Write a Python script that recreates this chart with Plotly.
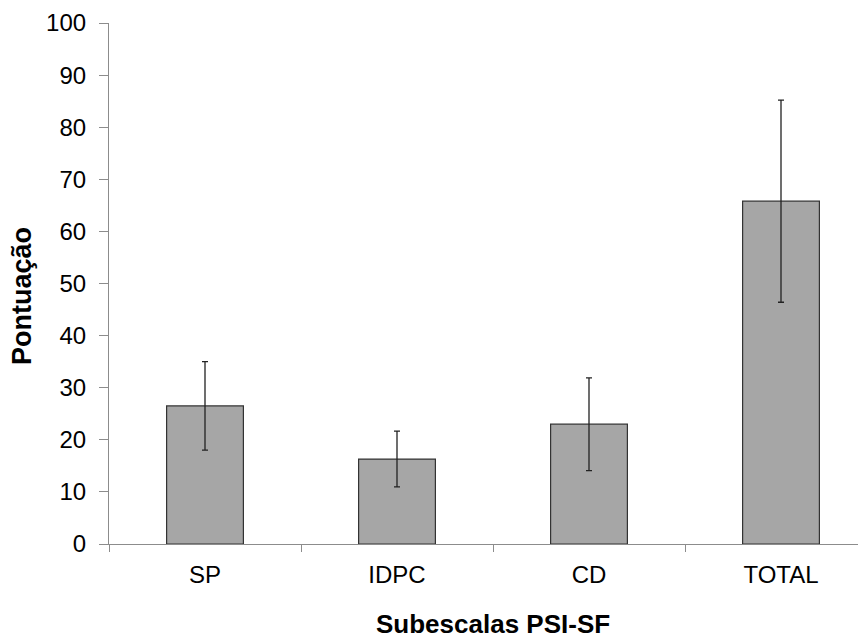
import plotly.graph_objects as go

categories = ["SP", "IDPC", "CD", "TOTAL"]
means = [26.5, 16.3, 23.0, 65.8]
errors = [8.5, 5.35, 8.9, 19.4]
y_ticks = [0, 10, 20, 30, 40, 50, 60, 70, 80, 90, 100]

font_family = "Liberation Sans, Arial, sans-serif"

fig = go.Figure(
    go.Bar(
        x=categories,
        y=means,
        width=0.4,
        marker=dict(color="#A6A6A6", line=dict(color="#333333", width=1.2)),
        error_y=dict(type="data", array=errors, visible=True,
                     color="#222222", thickness=1.3, width=3),
    )
)

fig.update_layout(
    width=869, height=641,
    margin=dict(l=101, r=0, t=15, b=105),
    plot_bgcolor="white", paper_bgcolor="white",
    showlegend=False,
    font=dict(family=font_family, color="black", size=24),
)

fig.update_xaxes(
    type="category",
    range=[-0.5, 3.5],
    showline=True, linecolor="#8c8c8c", linewidth=1.2,
    ticks="outside", tickson="boundaries", ticklen=7, tickcolor="#8c8c8c",
    showgrid=False, zeroline=False,
    tickfont=dict(size=24),
    ticklabelstandoff=9,
)

fig.update_yaxes(
    range=[0, 100],
    tickvals=y_ticks,
    showline=True, linecolor="#8c8c8c", linewidth=1.2,
    ticks="outside", ticklen=9, tickcolor="#8c8c8c",
    showgrid=False, zeroline=False,
    tickfont=dict(size=24),
    ticklabelstandoff=8,
)

fig.add_annotation(
    text="<b>Pontuação</b>", textangle=-90,
    xref="paper", yref="paper", x=0, y=0.476,
    xanchor="center", yanchor="middle", xshift=-87,
    showarrow=False, font=dict(size=27),
)

fig.add_annotation(
    text="<b>Subescalas PSI-SF</b>",
    xref="paper", yref="paper", x=0.5, y=0,
    xanchor="center", yanchor="middle", yshift=-80,
    showarrow=False, font=dict(size=26), borderpad=0,
)

fig.write_html("out.html")
